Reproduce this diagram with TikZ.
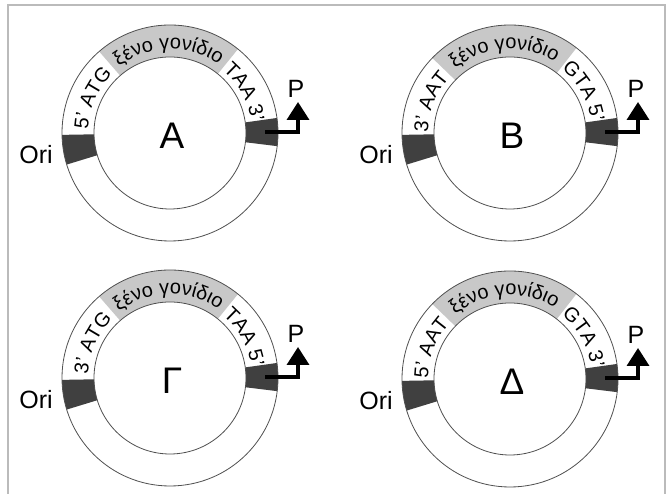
\documentclass[tikz,border=0pt]{standalone}
\usepackage{fontspec}
\setmainfont{Liberation Sans}
\usetikzlibrary{decorations.text,arrows.meta}
\definecolor{bandgray}{HTML}{C8C8C8}
\definecolor{blockgray}{HTML}{404040}
\definecolor{framegray}{HTML}{BBBBBB}
\definecolor{ringline}{HTML}{505050}
\newcommand\ringfont{\fontsize{20}{20}\selectfont}
\tikzset{
  ringedge/.style={draw=ringline, line width=0.8pt},
  bigletter/.style={font=\fontsize{37}{37}\selectfont, inner sep=0pt},
  sidelabel/.style={font=\fontsize{25}{25}\selectfont, inner sep=0pt},
  promoter/.style={line width=3.5pt, -{Triangle[width=22pt,length=18pt]}},
  ringtext/.style={decorate, decoration={text along path, text align=center, text={|\ringfont|#1}}},
  framestyle/.style={draw=framegray, line width=1.5pt},
}
\newcommand\plasmid[8]{%
\begin{scope}[shift={(#2,#3)}]
  \fill[white] (0,0) circle[radius=108];
  \fill[bandgray] (#7:108) arc[start angle=#7,end angle=#8,radius=108]
     -- (#8:76) arc[start angle=#8,end angle=#7,radius=76] -- cycle;
  \fill[blockgray] (181:108) arc[start angle=181,end angle=197,radius=108]
     -- (197:76) arc[start angle=197,end angle=181,radius=76] -- cycle;
  \fill[blockgray] (-7:108) arc[start angle=-7,end angle=8,radius=108]
     -- (8:76) arc[start angle=8,end angle=-7,radius=76] -- cycle;
  \draw[ringedge] (0,0) circle[radius=108];
  \draw[ringedge] (0,0) circle[radius=76];
  \path[ringtext={ξένο γονίδιο}] (#8:84) arc[start angle=#8,end angle=#7,radius=84];
  \path[ringtext={#5}] (181:82) arc[start angle=181,end angle=#8,radius=82];
  \path[ringtext={#6}] (#7:82) arc[start angle=#7,end angle=7,radius=82];
  \node[bigletter] (#1-lbl) at (2,-3) {#4};
  \node[sidelabel] (#1-ori) at (-134,-22) {Ori};
  \node[sidelabel] (#1-p) at (126,44) {P};
  \coordinate (#1-ps) at (95,1);
  \coordinate (#1-pt) at (128,31);
  \draw[promoter] (#1-ps) -| (#1-pt);
\end{scope}}
\begin{document}
\begin{tikzpicture}[x=1pt,y=1pt]
  \useasboundingbox (0,0) rectangle (670,494);
  \draw[framestyle] (8,0) -- (8,489) -- (665,489) -- (665,0);
  \plasmid{A}{170}{361}{A}{5' ATG}{TAA 3'}{51}{131}
  \plasmid{B}{510}{361}{B}{3' AAT}{GTA 5'}{52}{136}
  \plasmid{G}{170}{116}{Γ}{3' ATG}{TAA 5'}{51}{131}
  \plasmid{D}{510}{115}{Δ}{5' AAT}{GTA 3'}{52}{136}
\end{tikzpicture}
\end{document}
